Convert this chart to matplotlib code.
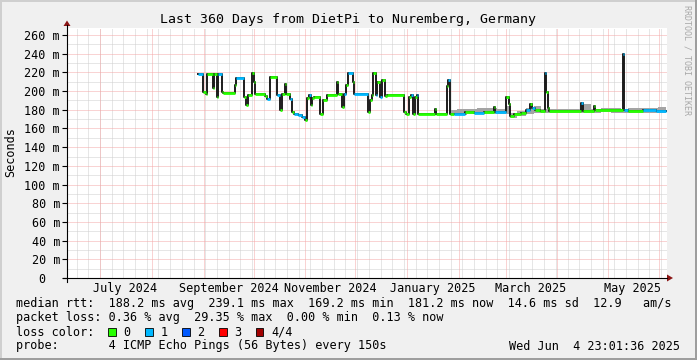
import numpy as np
import matplotlib
matplotlib.use("Agg")
import matplotlib.pyplot as plt
from matplotlib.patches import Rectangle, Polygon

plt.rcParams['font.family'] = ['DejaVu Sans Mono']

W, H = 697, 360

# x values are days counted from 2024-07-01
DAYS = [58.9, 61.9, 63.3, 64.3, 67.7, 68.3, 69.9, 70.8, 72.9, 73.8,
        80.8, 81.6, 86.2, 87.4, 88.4, 90.8, 92.0, 93.0, 98.6, 100.0,
        101.6, 106.2, 108.0, 109.0, 110.8, 111.6, 114.0, 115.0, 116.0, 118.8,
        120.8, 122.6, 123.8, 125.0, 126.4, 127.0, 128.0, 131.8, 133.4, 136.0,
        142.0, 142.6, 145.0, 146.2, 147.4, 148.6, 151.6, 152.4, 160.4, 161.8,
        162.6, 163.6, 165.0, 166.0, 167.6, 169.0, 170.8, 171.8, 182.2, 183.2,
        185.0, 186.0, 187.6, 188.6, 189.6, 190.6, 200.6, 201.2, 207.8, 208.4,
        209.4, 212.0, 218.6, 224.0, 230.0, 236.2, 236.8, 243.4, 244.8, 245.6,
        247.8, 252.0, 255.0, 257.4, 259.0, 260.4, 263.8, 266.4, 267.4, 268.2,
        269.0, 288.0, 289.0, 295.8, 296.6, 313.0, 314.0, 316.0, 325.0, 333.0]
MEDIAN = [218, 199, 197, 218, 203, 218, 194, 218, 199, 198,
          206, 214, 194, 185, 196, 219, 210, 197, 195, 192,
          215, 196, 180, 197, 208, 197, 192, 178, 176, 174,
          172, 169, 193, 196, 185, 193, 194, 176, 190, 196,
          210, 197, 183, 197, 206, 219, 210, 197, 178, 190,
          196, 219, 196, 210, 194, 212, 195, 196, 178, 176,
          194, 196, 176, 194, 196, 176, 181, 176, 205, 212,
          176, 176, 178, 177, 178, 183, 178, 194, 186, 173,
          175, 177, 180, 186, 182, 180, 179, 219, 199, 182,
          179, 187, 179, 184, 180, 240, 180, 179, 180, 179]
LOSS = [1, 0, 0, 0, 0, 0, 0, 1, 0, 0,
        0, 1, 0, 0, 0, 0, 0, 0, 0, 1,
        0, 1, 0, 0, 0, 0, 1, 0, 1, 1,
        1, 0, 0, 1, 0, 0, 0, 0, 0, 0,
        0, 0, 0, 1, 0, 1, 0, 1, 0, 0,
        0, 0, 1, 0, 1, 0, 0, 0, 0, 0,
        0, 1, 0, 0, 1, 0, 0, 0, 0, 1,
        0, 1, 0, 1, 0, 0, 1, 0, 0, 0,
        0, 0, 1, 0, 1, 0, 0, 1, 0, 0,
        0, 1, 0, 0, 0, 1, 1, 0, 1, 1]
END_DAY = 339.0

SMOKE_DAYS = [209.4, 214, 220, 226, 232, 238, 243.4, 245.6, 250, 255, 260, 264,
              269, 276, 282, 288, 294, 300, 306, 312, 316, 322, 328, 334]
SMOKE_LO = [174, 174, 175, 175, 176, 176, 176, 171, 173, 175, 177, 177,
            177, 177, 177, 177, 177, 178, 177, 177, 177, 177, 177, 177]
SMOKE_HI = [180, 181, 181, 182, 182, 181, 184, 177, 179, 182, 184, 181,
            181, 181, 181, 186, 181, 182, 182, 181, 182, 182, 182, 183]

LOSS_COLORS = ['#26ff00', '#00b8ff', '#0059ff', '#ff0000', '#a10000']
LOSS_NAMES = ['0', '1', '2', '3', '4/4']

LABEL_MONTHS = ['2024-07', '2024-09', '2024-11', '2025-01', '2025-03', '2025-05']
MONTH_LABELS = ['July 2024', 'September 2024', 'November 2024',
                'January 2025', 'March 2025', 'May 2025']
YTICKS = list(range(0, 261, 20))

TITLE = 'Last 360 Days from DietPi to Nuremberg, Germany'
RTT_LINE = ('median rtt:  188.2 ms avg  239.1 ms max  169.2 ms min  '
            '181.2 ms now  14.6 ms sd  12.9   am/s')
LOSS_LINE = 'packet loss: 0.36 % avg  29.35 % max  0.00 % min  0.13 % now'
PROBE_LINE = 'probe:       4 ICMP Echo Pings (56 Bytes) every 150s'
STAMP = 'Wed Jun  4 23:01:36 2025'

base = np.datetime64('2024-07-01')
months = np.arange(np.datetime64('2024-06'), np.datetime64('2025-07'), dtype='datetime64[M]')
month_days = (months.astype('datetime64[D]') - base).astype(float)
mondays = (np.arange(np.datetime64('2024-06-17'), np.datetime64('2025-06-06'), 7) - base).astype(float)
label_days = [(np.datetime64(m + '-01') - base).astype(float) + 15 for m in LABEL_MONTHS]

GRID = '#cfcfcf'
MGRID = '#f4a8a8'
FS = 8.5

fig = plt.figure(figsize=(W / 100, H / 100), dpi=100)
fig.patch.set_facecolor('#f0f0f0')

# 3d frame
bg = fig.add_axes([0, 0, 1, 1], zorder=0)
bg.set_xlim(0, W)
bg.set_ylim(H, 0)
bg.axis('off')
bg.add_patch(Rectangle((0, 0), W, 2, color='#cfcfcf', lw=0))
bg.add_patch(Rectangle((0, 0), 2, H, color='#cfcfcf', lw=0))
bg.add_patch(Rectangle((W - 2.5, 0), 2.5, H, color='#9e9e9e', lw=0))
bg.add_patch(Rectangle((0, H - 2.5), W, 2.5, color='#9e9e9e', lw=0))

ax = fig.add_axes([67 / W, (H - 278) / H, 600 / W, 250 / H], zorder=1)
ax.set_facecolor('white')
ax.set_xlim(-19.8, 339.6)
ax.set_ylim(0, 267.5)
for s in ax.spines.values():
    s.set_visible(False)

# grid
for v in range(10, 268, 20):
    ax.axhline(v, color=GRID, lw=0.72, ls=(0, (1, 1)), zorder=0.5)
for d in mondays:
    ax.axvline(d, color=GRID, lw=0.72, ls=(0, (1, 1)), zorder=0.5)
for v in range(20, 268, 20):
    ax.axhline(v, color=MGRID, lw=0.72, ls=(0, (1, 1)), zorder=0.6)
for d in month_days:
    ax.axvline(d, color=MGRID, lw=0.72, ls=(0, (1, 1)), zorder=0.6)

# smoke
sx = SMOKE_DAYS + [END_DAY]
ax.fill_between(sx, SMOKE_LO + [SMOKE_LO[-1]], SMOKE_HI + [SMOKE_HI[-1]],
                step='post', color='#a4a4a4', lw=0, zorder=2)

# median, coloured by loss
xs = DAYS + [END_DAY]
ys = MEDIAN + [MEDIAN[-1]]
ax.step(xs, ys, where='post', color='#1c1c1c', lw=1.4, zorder=3)
for i in range(len(DAYS)):
    ax.hlines(MEDIAN[i], xs[i], xs[i + 1], colors=LOSS_COLORS[LOSS[i]], lw=2.0, zorder=4)

ax.set_yticks(YTICKS, ['0  '] + ['%d m' % v for v in YTICKS[1:]])
ax.set_xticks(label_days, MONTH_LABELS)
ax.tick_params(axis='y', length=3.5, width=0.8, pad=1.5, labelsize=FS)
ax.tick_params(axis='x', length=0, pad=3, labelsize=FS)

# axes, arrows and text on top
top = fig.add_axes([0, 0, 1, 1], zorder=3)
top.set_xlim(0, W)
top.set_ylim(H, 0)
top.axis('off')
top.plot([67, 67], [282, 25], color='black', lw=0.8)
top.plot([63, 667], [278, 278], color='black', lw=0.8)
top.add_patch(Polygon([(63.5, 26), (70.5, 26), (67, 20.5)], closed=True, color='#8b1515', lw=0))
top.add_patch(Polygon([(667, 274.5), (667, 281.5), (673, 278)], closed=True, color='#8b1515', lw=0))

top.text(348, 19, TITLE, ha='center', va='center', fontsize=9.5)
top.text(10.5, 152, 'Seconds', rotation=90, ha='center', va='center', fontsize=FS)
top.text(687.5, 5, 'RRDTOOL / TOBI OETIKER', rotation=-90, ha='center', va='top',
         fontsize=6, color='#a8a8a8')

top.text(16, 304, RTT_LINE, va='center', fontsize=FS)
top.text(16, 318, LOSS_LINE, va='center', fontsize=FS)
top.text(16, 332, 'loss color:', va='center', fontsize=FS)
for i, (c, n) in enumerate(zip(LOSS_COLORS, LOSS_NAMES)):
    bx = 108.3 + i * 36.9
    top.add_patch(Rectangle((bx, 328.3), 7.5, 7.5, facecolor=c, edgecolor='black', lw=0.6))
    top.text(bx + 15, 332, n, va='center', fontsize=FS)
top.text(16, 346, PROBE_LINE, va='center', fontsize=FS)
top.text(680, 346, STAMP, ha='right', va='center', fontsize=FS)

fig.savefig('out.png', dpi=100, facecolor=fig.get_facecolor())
